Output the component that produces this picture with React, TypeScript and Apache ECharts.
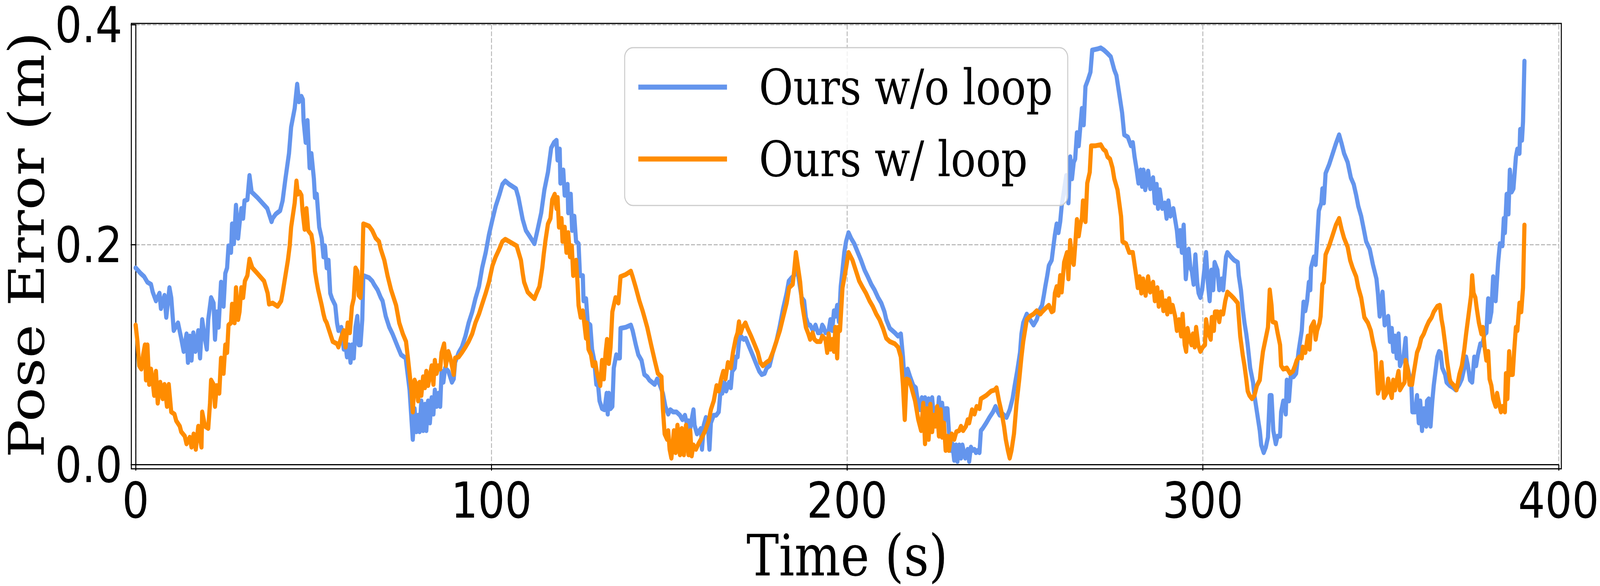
import React, { useEffect, useRef } from "react";
import * as echarts from "echarts";

const xTicks = [0, 100, 200, 300, 400];
const yTicks = [0, 0.2, 0.4];
const seriesNames = ["Ours w/o loop", "Ours w/ loop"];
const seriesColors = ["#6495ED", "#FF8C00"];

// [time (s), pose error (m)] — Ours w/o loop
const blueWoLoop: [number, number][] = [
  [0,0.179],[1.4,0.174],[2.4,0.171],[3.3,0.166],[4.3,0.164],[4.8,0.157],[5.7,0.149],[6.7,0.156],[7.1,0.142],[8.1,0.154],
  [8.6,0.134],[9.5,0.161],[10,0.152],[10.7,0.122],[11.9,0.129],[12.8,0.115],[13.5,0.103],[14.3,0.119],[14.7,0.093],[15.2,0.117],
  [15.7,0.095],[16.2,0.120],[16.8,0.103],[17.6,0.122],[18.1,0.097],[18.7,0.132],[19.5,0.114],[20,0.105],[20.4,0.132],[21.2,0.152],
  [21.9,0.147],[22.3,0.114],[22.8,0.139],[23.3,0.125],[24,0.166],[24.7,0.144],[25.2,0.174],[25.7,0.179],[26.1,0.199],[26.8,0.193],
  [27.1,0.219],[27.6,0.201],[28.2,0.236],[28.8,0.206],[29.2,0.219],[29.7,0.233],[30.2,0.224],[30.6,0.240],[31.4,0.241],[32,0.263],
  [32.6,0.248],[34.2,0.243],[35.6,0.238],[37,0.233],[38.2,0.221],[38.5,0.224],[39.4,0.228],[40.6,0.231],[41.3,0.240],[42.1,0.260],
  [43.1,0.283],[43.7,0.307],[44.7,0.324],[45.4,0.346],[45.9,0.330],[46.6,0.335],[47,0.332],[47.2,0.313],[47.8,0.293],[48.3,0.313],
  [48.9,0.270],[49.4,0.283],[50.1,0.260],[50.4,0.243],[50.9,0.246],[51.6,0.216],[52.3,0.206],[52.8,0.189],[53.2,0.199],[53.7,0.179],
  [54.2,0.186],[54.7,0.156],[55.2,0.151],[56.1,0.145],[56.6,0.129],[57,0.122],[57.8,0.125],[58.5,0.105],[59,0.109],[59.4,0.098],
  [59.9,0.109],[60.4,0.093],[60.8,0.109],[61.3,0.097],[61.8,0.125],[62.3,0.135],[62.7,0.109],[63.2,0.109],[63.7,0.132],[64,0.172],
  [65.6,0.170],[66.5,0.167],[67,0.164],[68,0.159],[68.9,0.152],[69.4,0.149],[70.3,0.135],[71.3,0.125],[72.2,0.119],[73.7,0.107],
  [74.6,0.100],[75.9,0.097],[77,0.068],[77.9,0.023],[78.4,0.051],[78.9,0.030],[79.4,0.045],[79.8,0.030],[80.3,0.058],[80.8,0.031],
  [81.3,0.055],[81.7,0.031],[82.2,0.058],[82.7,0.038],[83.2,0.061],[83.7,0.046],[84.1,0.068],[84.6,0.053],[85.1,0.065],[85.6,0.053],
  [86,0.085],[86.5,0.075],[87,0.088],[87.9,0.085],[88.9,0.075],[89.4,0.078],[89.8,0.093],[90.8,0.102],[91.7,0.107],[92.7,0.117],
  [93.6,0.129],[94.6,0.139],[95.5,0.151],[96.5,0.162],[97.4,0.179],[98.4,0.193],[99.3,0.209],[100.3,0.223],[101.2,0.235],[102.2,0.245],
  [103.1,0.255],[103.9,0.258],[105,0.255],[106.9,0.251],
  [107.6,0.243],[108.8,0.223],[109.7,0.213],[111.1,0.206],[112.1,0.201],[113,0.214],[114,0.229],[114.9,0.250],[115.9,0.266],[116.8,0.288],
  [117.6,0.293],[118.3,0.295],[118.6,0.277],[119.2,0.287],[119.4,0.256],[120.2,0.268],[120.6,0.245],[121.4,0.255],[121.6,0.229],[122.3,0.246],
  [122.7,0.213],[123.3,0.226],[123.8,0.203],[124.5,0.201],[124.9,0.172],[125.7,0.172],[125.9,0.149],[126.6,0.151],[127.1,0.129],[127.8,0.127],
  [128.3,0.105],[128.9,0.095],[129.5,0.073],[130,0.072],[130.4,0.058],[131.1,0.051],[131.8,0.050],[132.4,0.065],[132.7,0.046],[133,0.065],
  [133.5,0.051],[134,0.053],[134.4,0.088],[135.1,0.100],[135.6,0.097],[136.1,0.097],[136.3,0.124],[137.8,0.125],[139.2,0.127],[139.7,0.122],
  [140.6,0.109],[141.3,0.100],[142.2,0.095],[143,0.082],[143.8,0.080],[144.4,0.077],[145.9,0.073],[146.6,0.078],[147.3,0.073],[148.2,0.065],
  [148.9,0.053],[149.7,0.046],[150.3,0.050],[151.1,0.048],[152,0.048],[153,0.045],[153.7,0.041],[154.4,0.045],[154.9,0.038],[155.4,0.040],
  [155.9,0.033],[156.3,0.041],[156.8,0.050],[157.1,0.036],[157.8,0.028],[158.2,0.030],[158.9,0.033],[159.2,0.014],[159.7,0.036],[160.3,0.043],
  [160.8,0.038],[161.3,0.014],[161.7,0.038],[162.5,0.045],[163.2,0.045],[163.9,0.048],[164.4,0.067],[164.9,0.065],[165.5,0.075],[166,0.067],
  [166.8,0.075],[167.3,0.070],[167.7,0.085],[168.4,0.088],[168.7,0.098],[169.2,0.098],[169.6,0.112],[170.1,0.117],[170.9,0.114],[171.5,0.115],
  [172.5,0.107],[173.4,0.100],[174.4,0.092],[175.3,0.085],[176,0.082],[176.8,0.083],[177.4,0.088],[178.2,0.090],[179.1,0.102],[180.1,0.112],
  [181,0.125],[182,0.142],[183,0.156],[183.6,0.167],[184.4,0.170],[185.1,0.172],[185.6,0.189],[186.3,0.171],[187.2,0.152],[187.9,0.149],
  [188.4,0.134],[189.1,0.127],[189.6,0.127],[190.4,0.122],[191.1,0.127],[191.8,0.120],[192.5,0.120],[193,0.127],[193.4,0.125],[193.9,0.120],
  [194.8,0.122],[195.3,0.132],[195.8,0.122],[196.3,0.140],[196.7,0.135],[197.2,0.145],[197.7,0.130],[198.2,0.162],[198.7,0.177],[199.2,0.193],
  [199.7,0.203],[200.4,0.211],[201.1,0.206],[202,0.201],[203,0.193],[203.9,0.186],[204.9,0.177],[205.8,0.171],[206.8,0.164],[207.7,0.159],
  [208.7,0.152],[209.6,0.147],[210.5,0.139],[211,0.132],[212,0.124],[213.4,0.120],[214.3,0.117],[215.1,0.119],[215.7,0.098],[216.2,0.073],
  [217,0.087],[217.7,0.080],[218.6,0.072],[219.3,0.070],[220,0.055],[220.5,0.050],[221,0.061],[221.4,0.045],[221.9,0.061],[222.4,0.048],
  [222.9,0.060],[223.4,0.041],[223.9,0.061],[224.3,0.045],[224.8,0.051],[225.3,0.038],[225.8,0.061],[226.3,0.041],[226.7,0.056],[227.2,0.038],
  [227.7,0.051],[228.2,0.051],[228.6,0.031],[229.1,0.013],[229.6,0.019],[230.1,0.004],[230.6,0.018],[231,0.003],[231.5,0.018],[232,0.006],
  [232.4,0.018],[233.2,0.006],[233.9,0.014],[234.3,0.003],[234.8,0.016],[235.3,0.013],[235.8,0.014],[236.2,0.011],[236.7,0.013],[237.2,0.011],
  [237.6,0.031],[238.1,0.033],[239.1,0.038],[240,0.043],[241,0.048],[241.7,0.053],[242.4,0.048],[242.9,0.045],[243.8,0.046],[244.8,0.043],
  [245.2,0.046],[245.7,0.050],[246.5,0.060],[247.1,0.072],[247.8,0.085],[248.6,0.102],[249,0.119],[249.5,0.129],[250.5,0.137],[251.4,0.132],
  [252.4,0.127],[253.3,0.132],[254,0.140],[254.8,0.145],[255.3,0.154],[255.7,0.162],[256.2,0.171],[256.7,0.181],
  [257.5,0.186],[258,0.199],[258.4,0.209],[258.9,0.219],[259.4,0.211],[259.9,0.221],[260.3,0.235],[261,0.250],[261.6,0.263],[262.2,0.238],
  [262.7,0.280],[263.2,0.260],[263.7,0.275],[264.1,0.278],[264.6,0.302],[265.1,0.290],[265.6,0.309],[266,0.324],[266.5,0.309],[267,0.344],
  [267.7,0.350],[268.4,0.357],[268.9,0.377],[270.3,0.378],[271.3,0.379],[272.2,0.377],[273.2,0.374],[274.1,0.371],[275.1,0.359],[275.7,0.354],
  [276.5,0.337],[277.3,0.320],[277.9,0.300],[278.9,0.298],[279.8,0.290],[280.3,0.293],[280.8,0.280],[281.3,0.270],[281.9,0.256],[282.5,0.268],
  [282.9,0.253],[283.3,0.268],[283.8,0.250],[284.6,0.267],[285.2,0.251],[286,0.261],[286.5,0.238],[287,0.255],[287.4,0.233],[287.9,0.250],
  [288.6,0.233],[289.3,0.238],[289.8,0.224],[290.3,0.240],[290.9,0.226],[291.7,0.233],[292.2,0.223],[292.7,0.213],[293.1,0.199],[293.6,0.213],
  [294.1,0.193],[294.6,0.218],[295.2,0.169],[296,0.196],[296.5,0.179],[296.9,0.176],[297.4,0.164],[297.9,0.191],[298.4,0.166],[298.8,0.156],
  [299.3,0.152],[299.8,0.159],[300.3,0.174],[300.9,0.193],[301.4,0.166],[301.9,0.149],[302.4,0.177],[302.9,0.159],[303.3,0.184],[304.1,0.177],
  [304.6,0.159],[305.3,0.169],[305.7,0.159],[306.5,0.189],[306.9,0.193],[307.9,0.189],[308.8,0.186],[309.8,0.184],[310.1,0.172],[310.7,0.159],
  [311.2,0.142],[311.7,0.129],[312.2,0.119],[312.6,0.109],[313.3,0.088],[314.1,0.075],[314.5,0.063],[315.2,0.048],[316,0.031],[316.4,0.018],
  [317.1,0.011],[317.7,0.016],[318.3,0.025],[318.8,0.063],[319.3,0.063],[319.8,0.031],[320.5,0.019],[321,0.026],[321.7,0.026],[322,0.048],
  [322.6,0.058],[323.3,0.046],[323.6,0.077],[324.2,0.058],[324.7,0.080],[325.5,0.080],[326.2,0.083],[326.9,0.103],[327.8,0.122],[328.3,0.148],
  [328.8,0.140],[329.3,0.149],[329.8,0.166],[330.2,0.159],[330.4,0.179],[331.2,0.189],[331.7,0.182],[332.1,0.203],[332.6,0.231],[333.3,0.238],
  [333.6,0.251],[334,0.238],[334.5,0.265],[335.5,0.273],[336.4,0.282],[337.4,0.292],[338.3,0.300],[339,0.292],[339.7,0.283],[340.7,0.275],
  [341.6,0.261],[342.4,0.255],[343.1,0.245],[343.7,0.235],[344.5,0.226],[345.3,0.213],[345.9,0.203],[346.9,0.196],[347.8,0.182],[348.8,0.169],
  [349.2,0.156],[349.7,0.135],[350.5,0.157],[351.1,0.127],[352.1,0.135],[352.6,0.112],[353.1,0.124],[353.5,0.103],[354,0.117],[354.5,0.097],
  [355,0.119],[355.4,0.090],[356.4,0.098],[357,0.115],[357.3,0.092],[358,0.082],[358.6,0.073],[358.9,0.048],[359.7,0.048],[360.2,0.063],
  [360.7,0.038],[361.1,0.058],[361.6,0.031],[362.1,0.051],[362.8,0.035],[363,0.058],[363.5,0.060],[364,0.035],[364.5,0.058],[364.9,0.072],
  [365.4,0.085],[365.9,0.098],[366.4,0.103],[366.8,0.102],[367.3,0.088],[368.1,0.082],[368.5,0.075],[369.4,0.072],[370.4,0.070],[371.1,0.068],
  [372.1,0.073],[372.8,0.078],[373.5,0.088],[374,0.098],[374.5,0.090],[375.1,0.077],[375.7,0.075],[376.3,0.098],[376.8,0.090],[377.3,0.100],
  [378,0.110],[378.5,0.109],[379.2,0.119],[379.7,0.120],[380.2,0.151],[380.6,0.130],[381.1,0.139],[381.6,0.171],[382.3,0.149],[383,0.184],
  [383.5,0.201],[384.2,0.199],[384.6,0.224],[384.9,0.211],[385.4,0.246],[385.9,0.228],[386.3,0.268],[386.8,0.248],[387.3,0.251],[388,0.280],
  [388.4,0.287],[389,0.283],[389.2,0.305],[389.7,0.295],[390,0.312],[390.4,0.367]
];

// [time (s), pose error (m)] — Ours w/ loop
const orangeWLoop: [number, number][] = [
  [0,0.127],[0.5,0.112],[1,0.090],[1.6,0.087],[2.1,0.100],[2.6,0.109],[2.9,0.077],[3.3,0.109],[3.8,0.073],[4.3,0.087],
  [4.8,0.075],[5.2,0.063],[5.7,0.085],[6.2,0.056],[6.9,0.075],[7.6,0.060],[8.1,0.073],[8.8,0.053],[9.3,0.073],[10,0.048],
  [10.9,0.046],[11.4,0.040],[12.4,0.035],[12.8,0.030],[13.8,0.026],[14.3,0.019],[15.2,0.025],[15.7,0.016],[16.3,0.028],[16.9,0.014],
  [17.6,0.035],[18.5,0.016],[18.7,0.048],[19.5,0.035],[20.4,0.033],[20.9,0.056],[21.2,0.077],[21.9,0.073],[22.3,0.053],[22.8,0.072],
  [23.5,0.065],[24,0.097],[24.7,0.083],[25.2,0.109],[25.7,0.102],[26.1,0.127],[26.8,0.129],[27.1,0.146],[27.8,0.129],[28.2,0.161],
  [28.8,0.132],[29.2,0.139],[29.7,0.161],[30.2,0.152],[30.7,0.167],[31.4,0.172],[32,0.187],[32.8,0.179],[34.2,0.174],[36.1,0.167],
  [37.1,0.156],[37.5,0.146],[38.5,0.147],[39.9,0.144],[40.9,0.149],[41.3,0.156],[42.1,0.172],[42.8,0.186],[43.3,0.199],[43.7,0.216],
  [44.7,0.238],[45.2,0.258],[45.6,0.246],[46.1,0.248],[46.6,0.245],[46.9,0.231],[47.5,0.214],[48,0.233],[48.5,0.213],[49.4,0.209],
  [49.9,0.199],[50.4,0.176],[50.9,0.166],[51.3,0.159],[51.8,0.152],[52.3,0.145],[52.8,0.137],[53.2,0.132],[53.7,0.129],[54.7,0.119],
  [55.4,0.112],[56.6,0.110],[57,0.107],[57.7,0.115],[58.5,0.122],[59,0.107],[59.6,0.129],[60.2,0.120],[60.8,0.144],[61.3,0.151],
  [61.8,0.179],[62.3,0.176],[62.7,0.154],[63.2,0.152],[63.7,0.179],[64,0.219],[65.6,0.217],[66.5,0.213],[67.5,0.206],[68.4,0.203],
  [68.9,0.196],[69.9,0.186],[70.8,0.172],[71.8,0.159],[73.2,0.145],[74.1,0.129],[75.1,0.119],[76,0.112],[76.5,0.098],[77.5,0.068],
  [77.9,0.048],[78.4,0.077],[78.9,0.073],[79.4,0.058],[79.8,0.075],[80.3,0.063],[80.8,0.080],[81.3,0.070],[81.7,0.085],[82.2,0.072],
  [83.2,0.090],[83.7,0.073],[84.1,0.095],[84.6,0.083],[85.1,0.090],[85.6,0.087],[86,0.102],[86.7,0.110],[87.2,0.090],[87.9,0.103],
  [88.4,0.098],[88.9,0.090],[89.4,0.082],[89.8,0.097],[90.8,0.098],[91.7,0.102],[92.7,0.107],[93.6,0.112],[94.6,0.119],[95.5,0.129],
  [96.5,0.137],[97.4,0.146],[98.4,0.156],[99.3,0.166],[100.3,0.181],[101.2,0.189],[102.2,0.196],[103.1,0.203],[103.9,0.205],[105,0.203],
  [107.1,0.199],
  [108.3,0.186],[108.8,0.174],[109.2,0.166],[110.2,0.157],[111.1,0.154],[112.1,0.151],[112.7,0.156],[113.5,0.162],[114.3,0.179],[114.7,0.191],
  [115.2,0.204],[115.9,0.219],[116.6,0.224],[117.1,0.241],[117.8,0.246],[118.3,0.233],[118.6,0.243],[119,0.216],[119.7,0.224],[120,0.203],
  [120.6,0.216],[121.1,0.193],[121.6,0.211],[122.1,0.189],[122.6,0.199],[123,0.172],[123.8,0.186],[124.2,0.166],[124.5,0.145],[125.1,0.134],
  [125.7,0.140],[126.1,0.129],[126.6,0.115],[126.8,0.129],[127.3,0.105],[128,0.100],[128.5,0.090],[129.2,0.093],[129.7,0.083],[130.2,0.077],
  [130.6,0.072],[131.1,0.095],[131.6,0.078],[132.1,0.102],[132.5,0.114],[133,0.092],[133.5,0.107],[134,0.139],[134.9,0.152],[135.7,0.147],
  [136.3,0.171],[137.8,0.173],[139.2,0.176],[139.7,0.171],[140.6,0.161],[141.6,0.149],[142.5,0.140],[143.2,0.132],[143.8,0.125],[144.9,0.109],
  [145.9,0.095],[146.8,0.083],[147.8,0.080],[148.2,0.051],[148.7,0.028],[149.4,0.023],[149.7,0.031],[150.1,0.014],[150.6,0.006],[151.3,0.031],
  [151.8,0.011],[152.3,0.036],[153,0.009],[153.5,0.033],[154.1,0.009],[154.7,0.036],[155.4,0.009],[155.9,0.031],[156.3,0.008],[156.8,0.018],
  [157.5,0.014],[158.2,0.019],[159.2,0.025],[160.1,0.031],[161.1,0.040],[161.7,0.050],[162.5,0.058],[163.3,0.072],[163.9,0.067],[164.6,0.078],
  [165.2,0.085],[165.8,0.078],[166.5,0.093],[167.3,0.088],[167.9,0.102],[168.7,0.115],[169.2,0.120],[169.6,0.130],[170.1,0.120],[170.6,0.125],
  [171.4,0.129],[172,0.124],[173,0.117],[173.9,0.110],[174.9,0.102],[175.6,0.093],[176.3,0.090],[177.3,0.093],[178.2,0.095],[179.2,0.103],
  [180.1,0.112],[181.1,0.122],[182,0.134],[183,0.147],[183.7,0.161],[184.7,0.164],[185.1,0.176],[185.6,0.193],[186,0.184],[186.8,0.166],
  [187.3,0.147],[187.7,0.139],[188.4,0.125],[189.1,0.119],[189.6,0.114],[190.3,0.120],[190.8,0.114],[191.5,0.112],[192.5,0.112],[193,0.117],
  [193.9,0.114],[194.4,0.102],[194.8,0.119],[195.3,0.105],[195.8,0.114],[196.3,0.103],[196.7,0.125],[197.2,0.097],[197.5,0.125],[198,0.122],
  [198.7,0.161],[199.7,0.179],[200.4,0.193],[201.5,0.186],[202.4,0.177],[203.4,0.167],[204.4,0.161],[205.3,0.156],[206.3,0.149],[207.2,0.144],
  [208.2,0.137],[209.1,0.132],[210.1,0.124],[211,0.115],[212,0.112],[213.4,0.110],[214.3,0.107],[215.1,0.098],[215.7,0.072],[216.2,0.041],
  [216.7,0.078],[217.4,0.077],[218.1,0.070],[219.1,0.058],[220,0.041],[220.8,0.031],[221.4,0.056],[221.9,0.019],[222.4,0.051],[222.9,0.023],
  [223.4,0.055],[223.9,0.030],[224.3,0.045],[224.8,0.035],[225.3,0.053],[225.8,0.026],[226.3,0.050],[226.7,0.025],[227.2,0.038],[227.7,0.013],
  [228.2,0.026],[228.6,0.013],[229.4,0.028],[230.1,0.023],[230.7,0.030],[231.5,0.031],[232,0.035],[232.6,0.031],[233.4,0.035],[233.9,0.041],
  [234.3,0.038],[235.1,0.050],[235.8,0.046],[236.4,0.053],[237.2,0.051],[237.6,0.060],[239.1,0.063],[240.5,0.067],[241.5,0.068],[242,0.070],
  [242.7,0.058],[243.4,0.048],[244.1,0.035],[244.6,0.023],[245.2,0.013],[245.7,0.006],[246.2,0.013],[246.9,0.028],[247.6,0.055],[248.4,0.078],
  [249,0.098],[249.5,0.112],[250.5,0.132],[251.4,0.135],[252.4,0.137],[253.3,0.140],[254.3,0.137],[254.8,0.139],[255.7,0.142],[256.7,0.145],
  [257.5,0.139],[258,0.140],[258.4,0.156],[258.9,0.162],[259.4,0.154],[259.9,0.172],[260.3,0.157],[261,0.184],[261.8,0.193],[262.2,0.169],
  [262.7,0.204],[263.2,0.186],[263.7,0.182],[264.1,0.199],[264.6,0.223],[265.1,0.208],[265.6,0.219],[266,0.224],[266.3,0.240],[267,0.221],
  [267.5,0.256],[268.2,0.266],[268.6,0.290],[269.8,0.290],[271.3,0.291],[272,0.287],[272.7,0.285],[273.2,0.280],[273.9,0.278],[274.6,0.270],
  [275.1,0.260],[276,0.250],[276.5,0.238],[277,0.226],[277.4,0.203],[278.4,0.201],[279.3,0.193],[280.3,0.193],[280.8,0.182],[281.3,0.171],
  [281.7,0.161],[282.2,0.171],[282.7,0.156],[283.2,0.169],[283.9,0.154],[284.6,0.171],[285.2,0.157],[286,0.166],[286.5,0.149],[287.2,0.161],
  [287.6,0.144],[288.4,0.157],[288.9,0.140],[289.5,0.149],[290,0.137],[290.5,0.151],[291,0.139],[291.5,0.145],[292.2,0.135],[292.7,0.122],
  [293.3,0.132],[293.9,0.117],[294.3,0.137],[294.9,0.109],[295.3,0.103],[295.7,0.124],[296.2,0.115],[296.8,0.109],[297.2,0.119],[297.7,0.107],
  [298.1,0.125],[298.7,0.109],[299.3,0.103],[300,0.107],[300.6,0.109],[300.9,0.132],[301.5,0.120],[302.2,0.114],[302.5,0.134],[303.1,0.122],
  [303.4,0.139],[304.1,0.139],[304.6,0.130],[305,0.139],[305.7,0.137],[306.3,0.149],[306.9,0.157],[307.9,0.154],[308.8,0.151],[309.8,0.147],
  [310.1,0.134],[310.5,0.117],[311.2,0.100],[311.7,0.090],[312.2,0.078],[312.6,0.067],[313.1,0.063],[313.8,0.060],[314.5,0.063],[315.2,0.072],
  [316,0.077],[316.4,0.090],[316.9,0.103],[317.6,0.114],[318.3,0.125],[318.8,0.159],[319.3,0.145],[319.6,0.130],[320.5,0.129],[321,0.120],
  [321.7,0.109],[322,0.090],[322.6,0.087],[323.6,0.088],[324.5,0.083],[325.3,0.085],[325.9,0.090],[326.4,0.095],[327.1,0.098],[327.8,0.097],
  [328.1,0.107],[328.8,0.102],[329.5,0.117],[330,0.105],[330.4,0.125],[331.2,0.130],[331.7,0.114],[332.1,0.122],[332.8,0.129],[333.1,0.135],
  [333.6,0.164],[334,0.166],[334.5,0.191],[335.5,0.199],[336.4,0.208],[337.4,0.218],[338.3,0.224],[339,0.214],[339.7,0.206],[340.7,0.198],
  [341.4,0.186],[342.1,0.179],[343.1,0.171],[343.7,0.161],[344.5,0.152],[345.4,0.134],[346.4,0.129],[347.2,0.122],[347.8,0.112],[348.5,0.102],
  [349.2,0.065],[349.7,0.070],[350.2,0.093],[350.9,0.061],[351.6,0.065],[352.1,0.078],[352.6,0.067],[353.1,0.061],[353.5,0.077],[354,0.068],
  [354.5,0.077],[355,0.085],[355.4,0.068],[356.1,0.072],[356.7,0.075],[357,0.095],[357.6,0.087],[358.1,0.073],[358.8,0.073],[359.2,0.082],
  [359.7,0.092],[360.2,0.102],[360.8,0.107],[361.4,0.115],[362.1,0.119],[362.8,0.125],[363.5,0.130],[364.3,0.134],[364.9,0.139],[365.9,0.144],
  [366.6,0.145],[367.1,0.132],[367.5,0.125],[368.1,0.110],[368.7,0.093],[369.4,0.078],[369.7,0.075],[370.6,0.072],[371.3,0.068],[372.1,0.082],
  [372.8,0.090],[373.5,0.105],[374,0.119],[374.6,0.134],[375.4,0.154],[375.7,0.172],[376.1,0.156],[376.6,0.152],[377,0.142],[377.6,0.129],
  [378.3,0.119],[378.7,0.125],[379.2,0.107],[379.7,0.095],[380.2,0.103],[380.6,0.078],[381.1,0.072],[381.6,0.060],[382.3,0.053],[382.7,0.065],
  [383.3,0.055],[383.8,0.048],[384.2,0.053],[384.9,0.048],[385.2,0.083],[385.6,0.060],[386.1,0.103],[386.5,0.082],[387.1,0.082],[387.5,0.103],
  [388,0.125],[388.4,0.122],[389,0.147],[389.5,0.139],[390,0.161],[390.4,0.218]
];

const GRID_LEFT = 394;
const GRID_RIGHT = 116;
const GRID_TOP = 60;
const GRID_BOTTOM = 300;
const W = 4800;
const H = 1500;

export default function App() {
  const ref = useRef<HTMLDivElement>(null);
  useEffect(() => {
    document.body.style.margin = "0";
    document.body.style.overflow = "hidden";
    const el = ref.current;
    if (!el) return;
    const vw = window.innerWidth || W;
    const vh = window.innerHeight || H;
    const sx = vw / W;
    const sy = vh / H;
    if (Math.abs(sx - 1) > 0.01 || Math.abs(sy - 1) > 0.01) {
      el.style.transformOrigin = "0 0";
      el.style.transform = `scale(${sx}, ${sy})`;
    }
    const chart = echarts.init(el, undefined, { renderer: "svg", width: W, height: H });
    const tickFont = { fontFamily: "DejaVu Sans", fontSize: 127, lineHeight: 110, color: "#000" };
    const nameFont = { fontFamily: "DejaVu Serif", fontSize: 146, lineHeight: 130, color: "#000" };
    const dash = { color: "#b0b0b0", width: 2.5, type: [12, 5] as any };
    chart.setOption({
      animation: false,
      backgroundColor: "#ffffff",
      grid: { left: GRID_LEFT, right: GRID_RIGHT, top: GRID_TOP, bottom: GRID_BOTTOM, containLabel: false },
      xAxis: {
        type: "value",
        min: xTicks[0],
        max: xTicks[xTicks.length - 1],
        interval: xTicks[1] - xTicks[0],
        name: "Time (s)",
        nameLocation: "middle",
        nameGap: 164,
        nameTextStyle: nameFont,
        axisLine: { show: true, onZero: false, lineStyle: { color: "#000", width: 3 } },
        axisTick: { show: true, length: 15, lineStyle: { color: "#000", width: 3 } },
        axisLabel: { ...tickFont, margin: 36, formatter: (v: number) => String(v) },
        splitLine: { show: true, lineStyle: dash },
      },
      yAxis: {
        type: "value",
        min: yTicks[0],
        max: yTicks[yTicks.length - 1],
        interval: yTicks[1] - yTicks[0],
        name: "Pose Error (m)",
        nameLocation: "middle",
        nameGap: 261,
        nameRotate: 90,
        nameTextStyle: nameFont,
        axisLine: { show: true, onZero: false, lineStyle: { color: "#000", width: 3 } },
        axisTick: { show: true, length: 15, lineStyle: { color: "#000", width: 3 } },
        axisLabel: { ...tickFont, margin: 40, formatter: (v: number) => v.toFixed(1) },
        splitLine: { show: true, lineStyle: dash },
      },
      legend: {
        orient: "vertical",
        left: 1874,
        top: 122,
        padding: [31, 45, 49, 41],
        icon: "rect",
        itemWidth: 266,
        itemHeight: 13,
        itemGap: 44,
        backgroundColor: "rgba(255,255,255,0.8)",
        borderColor: "#cccccc",
        borderWidth: 3,
        borderRadius: 25,
        textStyle: { fontFamily: "DejaVu Serif", fontSize: 125, lineHeight: 140, color: "#000", padding: [0, 0, 0, 91] },
        data: seriesNames,
      },
      series: [
        {
          name: seriesNames[0],
          type: "line",
          data: blueWoLoop,
          showSymbol: false,
          symbol: "none",
          color: seriesColors[0],
          lineStyle: { color: seriesColors[0], width: 12.5, join: "round", cap: "round" },
          clip: true,
          z: 2,
        },
        {
          name: seriesNames[1],
          type: "line",
          data: orangeWLoop,
          showSymbol: false,
          symbol: "none",
          color: seriesColors[1],
          lineStyle: { color: seriesColors[1], width: 12.5, join: "round", cap: "round" },
          clip: true,
          z: 3,
        },
      ],
      graphic: [
        {
          type: "rect",
          z: 100,
          silent: true,
          shape: { x: GRID_LEFT, y: GRID_TOP, width: W - GRID_LEFT - GRID_RIGHT, height: H - GRID_TOP - GRID_BOTTOM },
          style: { fill: "none", stroke: "#000", lineWidth: 3 },
        },
      ],
    });
    return () => chart.dispose();
  }, []);
  return <div ref={ref} style={{ position: "absolute", left: 0, top: 0, width: W, height: H }} />;
}
